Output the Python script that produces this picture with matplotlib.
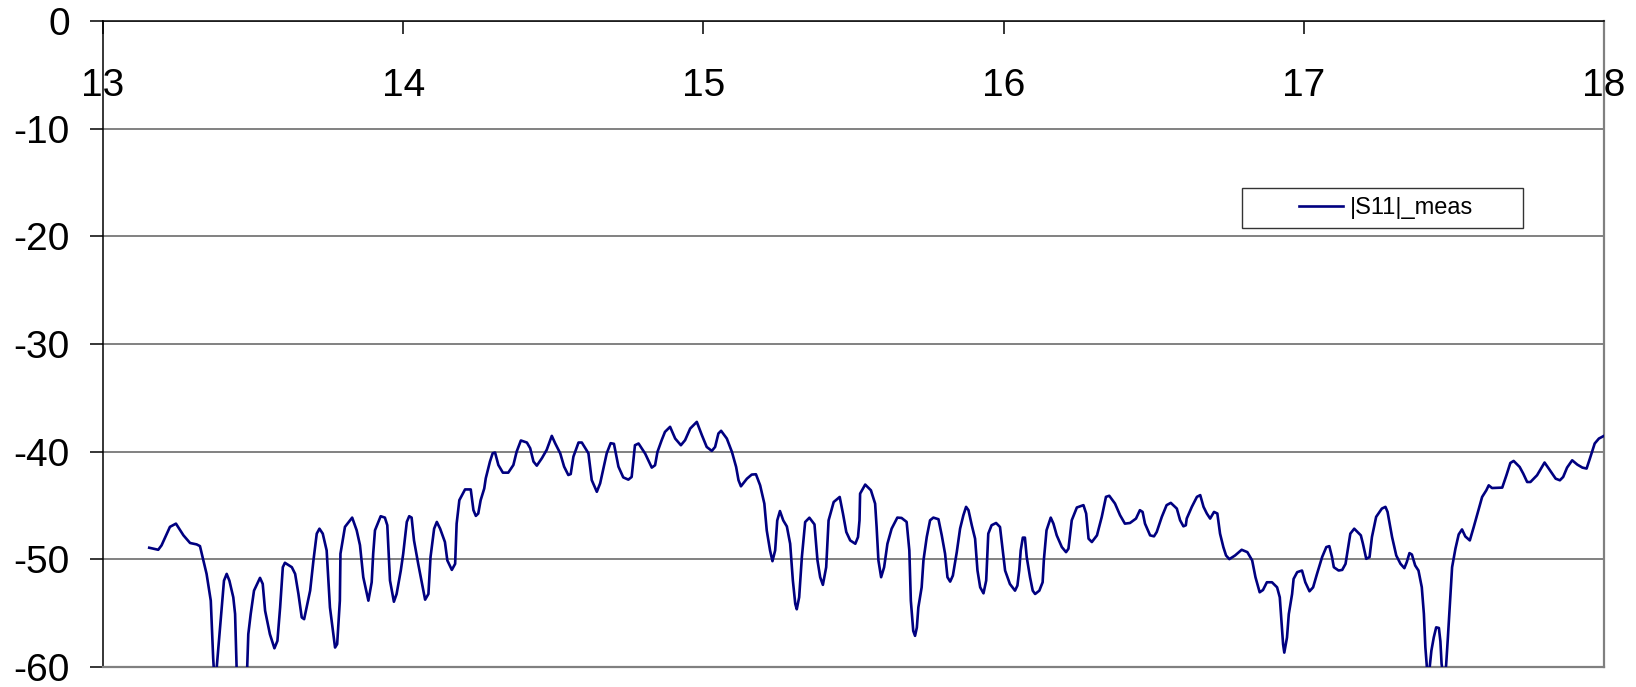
import matplotlib
matplotlib.use("Agg")
import matplotlib.pyplot as plt
from matplotlib.patches import Rectangle

# Measured reflection |S11| (dB) versus frequency (GHz)
freq = [
    13.154, 13.184, 13.195, 13.223, 13.243, 13.268, 13.290, 13.312, 13.323, 13.345,
    13.359, 13.367, 13.373, 13.390, 13.403, 13.412, 13.421, 13.434, 13.440, 13.447,
    13.462, 13.478, 13.484, 13.492, 13.503, 13.523, 13.532, 13.540, 13.556, 13.571,
    13.581, 13.590, 13.599, 13.606, 13.629, 13.640, 13.651, 13.662, 13.670, 13.690,
    13.701, 13.712, 13.721, 13.732, 13.745, 13.756, 13.773, 13.780, 13.789, 13.791,
    13.806, 13.830, 13.845,
    13.856, 13.867, 13.884, 13.895, 13.900, 13.906, 13.925, 13.939, 13.947, 13.956,
    13.969, 13.978, 13.992, 14.000, 14.012, 14.020, 14.028, 14.036, 14.050, 14.062,
    14.073, 14.084, 14.091, 14.103, 14.112, 14.123, 14.139, 14.147, 14.162, 14.173,
    14.178, 14.187, 14.206, 14.225, 14.234, 14.242, 14.250, 14.258, 14.270, 14.275,
    14.289, 14.298, 14.306, 14.317, 14.332, 14.350, 14.367, 14.378, 14.392, 14.412,
    14.423, 14.434, 14.445, 14.462, 14.478, 14.495, 14.506, 14.523, 14.536, 14.550,
    14.558, 14.567, 14.584, 14.595, 14.617, 14.628, 14.645, 14.656, 14.678, 14.691,
    14.702, 14.717, 14.733,
    14.750, 14.761, 14.772, 14.784, 14.806, 14.828, 14.839, 14.847, 14.861, 14.872,
    14.889, 14.906, 14.925, 14.939, 14.956, 14.978, 14.995, 15.011, 15.028, 15.039,
    15.050, 15.059, 15.078, 15.095, 15.109, 15.117, 15.125, 15.145, 15.161, 15.175,
    15.189, 15.203, 15.211, 15.222, 15.230, 15.239, 15.246, 15.255, 15.266, 15.278,
    15.289, 15.298, 15.306, 15.311, 15.319, 15.328, 15.339, 15.353, 15.370, 15.380,
    15.389, 15.398, 15.409, 15.417, 15.434, 15.454, 15.465, 15.476, 15.489, 15.506,
    15.515, 15.520, 15.522, 15.539, 15.558, 15.572, 15.577, 15.583, 15.592,
    15.602, 15.613, 15.627, 15.646, 15.660, 15.677, 15.686, 15.691, 15.699, 15.705,
    15.711, 15.716, 15.727, 15.733, 15.744, 15.755, 15.766, 15.783, 15.794, 15.805,
    15.813, 15.822, 15.831, 15.844, 15.855, 15.866, 15.875, 15.883, 15.894, 15.905,
    15.913, 15.922, 15.933, 15.942, 15.949, 15.960, 15.975, 15.988, 16.005, 16.021,
    16.038, 16.046, 16.052, 16.057, 16.064, 16.071, 16.077, 16.088, 16.097, 16.105,
    16.119, 16.130, 16.134, 16.143, 16.157, 16.166, 16.177, 16.194, 16.208, 16.216,
    16.227, 16.244, 16.266, 16.275, 16.283, 16.294, 16.311, 16.327, 16.341, 16.352,
    16.371, 16.388, 16.404, 16.421, 16.441,
    16.454, 16.463, 16.471, 16.488, 16.501, 16.510, 16.527, 16.543, 16.557, 16.577,
    16.588, 16.599, 16.607, 16.610, 16.627, 16.644, 16.655, 16.666, 16.677, 16.688,
    16.701, 16.712, 16.721, 16.732, 16.741, 16.752, 16.771, 16.793, 16.812, 16.828,
    16.839, 16.853, 16.864, 16.877, 16.894, 16.911, 16.920, 16.924, 16.931, 16.935,
    16.944, 16.950, 16.961, 16.966, 16.978, 16.994, 17.005, 17.019, 17.031, 17.044,
    17.061, 17.075, 17.085, 17.094, 17.100, 17.116, 17.128, 17.139, 17.146, 17.155,
    17.168, 17.190, 17.197, 17.208, 17.219, 17.227, 17.241, 17.260, 17.272, 17.279,
    17.294, 17.308,
    17.322, 17.335, 17.343, 17.352, 17.360, 17.371, 17.382, 17.393, 17.400, 17.405,
    17.414, 17.425, 17.433, 17.441, 17.450, 17.455, 17.459, 17.466, 17.474, 17.480,
    17.486, 17.494, 17.505, 17.516, 17.527, 17.538, 17.553, 17.566, 17.583, 17.594,
    17.608, 17.616, 17.627, 17.661, 17.675, 17.688, 17.699, 17.719, 17.731, 17.744,
    17.755, 17.777, 17.802, 17.816, 17.839, 17.853, 17.864, 17.877, 17.894, 17.911,
    17.928, 17.942, 17.953, 17.969, 17.983, 18.000,
]

s11_meas = [
    -48.94, -49.13, -48.72, -47.00, -46.70, -47.79, -48.50, -48.63, -48.79, -51.37,
    -53.86, -59.20, -62.00, -56.36, -52.00, -51.37, -52.00, -53.55, -55.10, -62.00,
    -63.00, -62.00, -56.98, -55.10, -52.93, -51.74, -52.30, -54.80, -56.98, -58.29,
    -57.60, -54.49, -50.75, -50.34, -50.75, -51.37, -53.24, -55.42, -55.58, -52.93,
    -50.12, -47.63, -47.17, -47.63, -49.19, -54.49, -58.22, -57.90, -53.86, -49.50,
    -47.00, -46.14, -47.32,
    -48.70, -51.68, -53.86, -52.15, -49.50, -47.32, -46.01, -46.14, -46.85, -51.99,
    -53.96, -53.24, -51.06, -49.50, -46.54, -46.01, -46.14, -48.26, -50.44, -52.15,
    -53.77, -53.24, -49.81, -47.17, -46.54, -47.17, -48.41, -50.12, -51.00, -50.44,
    -46.70, -44.52, -43.52, -43.52, -45.45, -45.98, -45.76, -44.52, -43.43, -42.49,
    -40.93, -40.16, -40.09, -41.25, -41.96, -41.96, -41.25, -40.00, -38.97, -39.16,
    -39.69, -40.93, -41.31, -40.62, -39.84, -38.54, -39.22, -40.16, -41.40, -42.18,
    -42.09, -40.47, -39.16, -39.16, -40.16, -42.65, -43.74, -42.96, -40.16, -39.22,
    -39.28, -41.40, -42.40,
    -42.61, -42.36, -39.41, -39.25, -40.19, -41.49, -41.27, -40.03, -38.94, -38.17,
    -37.70, -38.79, -39.41, -38.94, -37.86, -37.24, -38.48, -39.57, -39.94, -39.57,
    -38.32, -38.07, -38.79, -40.03, -41.43, -42.67, -43.23, -42.52, -42.14, -42.11,
    -43.14, -44.84, -47.33, -49.19, -50.19, -49.19, -46.40, -45.53, -46.40, -46.96,
    -48.57, -51.99, -54.16, -54.66, -53.54, -49.81, -46.55, -46.15, -46.77, -50.12,
    -51.68, -52.39, -50.75, -46.40, -44.69, -44.22, -45.78, -47.48, -48.26, -48.57,
    -47.95, -46.40, -43.91, -43.07, -43.60, -44.84, -47.02, -50.12, -51.68,
    -50.75, -48.57, -47.17, -46.14, -46.17, -46.54, -49.19, -53.86, -56.67, -57.13,
    -56.36, -54.49, -52.62, -50.12, -47.94, -46.39, -46.14, -46.29, -47.79, -49.50,
    -51.68, -52.09, -51.53, -49.35, -47.17, -45.92, -45.14, -45.45, -46.85, -48.10,
    -51.06, -52.62, -53.18, -51.99, -47.63, -46.85, -46.64, -47.01, -51.06, -52.31,
    -52.93, -52.46, -51.06, -49.19, -48.00, -48.00, -49.81, -51.68, -52.93, -53.24,
    -52.93, -52.15, -50.12, -47.32, -46.14, -46.70, -47.79, -48.88, -49.35, -49.03,
    -46.39, -45.20, -44.98, -45.76, -48.10, -48.41, -47.79, -46.07, -44.21, -44.11,
    -44.83, -45.92, -46.70, -46.64, -46.23,
    -45.45, -45.61, -46.70, -47.79, -47.88, -47.48, -46.07, -44.98, -44.77, -45.30,
    -46.39, -46.95, -46.85, -46.23, -45.14, -44.21, -44.05, -45.14, -45.76, -46.23,
    -45.61, -45.76, -47.63, -48.88, -49.66, -50.00, -49.66, -49.13, -49.35, -50.12,
    -51.68, -53.08, -52.87, -52.15, -52.15, -52.62, -53.55, -55.11, -57.91, -58.69,
    -57.29, -55.11, -53.24, -51.84, -51.21, -51.06, -52.15, -52.99, -52.62, -51.37,
    -49.81, -48.88, -48.79, -49.81, -50.75, -51.06, -51.00, -50.44, -49.19, -47.63,
    -47.17, -47.79, -48.57, -49.97, -49.81, -47.94, -46.07, -45.30, -45.14, -45.61,
    -47.94, -49.66,
    -50.43, -50.84, -50.28, -49.44, -49.57, -50.59, -51.06, -52.61, -55.09, -58.20,
    -61.50, -58.51, -57.27, -56.34, -56.40, -57.64, -59.75, -61.00, -59.90, -57.27,
    -54.47, -50.75, -49.04, -47.70, -47.24, -47.89, -48.26, -47.02, -45.31, -44.22,
    -43.60, -43.14, -43.39, -43.35, -42.20, -41.06, -40.87, -41.43, -42.05, -42.83,
    -42.83, -42.20, -41.02, -41.58, -42.52, -42.67, -42.36, -41.49, -40.81, -41.21,
    -41.49, -41.58, -40.65, -39.25, -38.79, -38.54,
]

x_ticks = [13, 14, 15, 16, 17, 18]
y_ticks = [0, -10, -20, -30, -40, -50, -60]
series_label = "|S11|_meas"

plt.rcParams["font.family"] = ["Liberation Sans", "DejaVu Sans"]
plt.rcParams["axes.unicode_minus"] = False

fig = plt.figure(figsize=(16.36, 6.87), dpi=100)
ax = fig.add_axes([0.06296, 0.02955, 0.91748, 0.93945])

ax.plot(freq, s11_meas, color="#000080", lw=1.9, label=series_label,
        solid_joinstyle="round", zorder=3)

ax.set_xlim(13, 18)
ax.set_ylim(-60, 0)

# y axis: outward ticks on the left, horizontal grid
ax.set_yticks(y_ticks)
ax.set_yticklabels([str(v) for v in y_ticks])
ax.tick_params(axis="y", direction="out", length=9.4, width=1.1,
               color="black", labelsize=28, pad=14.4)
ax.yaxis.grid(True, color="#5f5f5f", lw=1.1)
ax.xaxis.grid(False)

# x axis sits at 0 dB (top), with inward ticks and labels just below it
ax.xaxis.set_ticks_position("top")
ax.set_xticks(x_ticks)
ax.tick_params(axis="x", direction="in", length=9.4, width=1.1,
               color="black", labeltop=False, labelbottom=False)
for v in x_ticks:
    ax.annotate(str(v), xy=(v, 1.0), xycoords=("data", "axes fraction"),
                xytext=(0, -33.8), textcoords="offset points",
                ha="center", va="top", fontsize=28, annotation_clip=False)

ax.spines["left"].set_color("black")
ax.spines["left"].set_linewidth(1.1)
ax.spines["top"].set_color("black")
ax.spines["top"].set_linewidth(1.1)
for side in ("right", "bottom"):
    ax.spines[side].set_color("#808080")
    ax.spines[side].set_linewidth(1.6)

# legend box
ax.add_patch(Rectangle((0.7586, 0.6793), 0.1875, 0.0619, transform=ax.transAxes,
                       facecolor="white", edgecolor="#333333", lw=1.0, zorder=4))
leg = ax.legend(loc="center", bbox_to_anchor=(0.8546, 0.7103), frameon=False,
                fontsize=17, handlelength=1.9, handletextpad=0.27,
                borderpad=0.0)
leg.set_zorder(5)

fig.savefig("out.png", dpi=100)
